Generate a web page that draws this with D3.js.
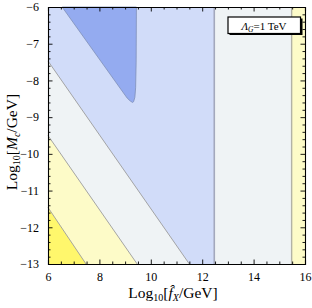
<!DOCTYPE html>
<html><head><meta charset="utf-8">
<script src="https://cdn.jsdelivr.net/npm/d3@7"></script>
<style>body{margin:0;background:#fff}svg{display:block}text{font-family:"Liberation Serif","DejaVu Serif",serif}</style>
</head><body><svg id="c" width="312" height="308"></svg>
<script>
// ---- data (log10 units) ----
const xDomain = [6, 16];
const yDomain = [-13, -6];
const xMajor = [6, 8, 10, 12, 14, 16];
const yMajor = [-6, -7, -8, -9, -10, -11, -12, -13];
// diagonal contour boundaries [x,y]
const contour1 = [[6, -11.46], [7.48, -13]];   // bright yellow edge
const contour2 = [[6, -9.5], [9.47, -13]];     // light yellow edge
const contour3 = [[6, -7.47], [11.5, -13]];    // pale edge
const vertical1 = 12.47;
const vertical2 = 15.48;
// dark blue region outline
const darkRegion = [[6.55, -6], [9.44, -6], [9.43, -7.5], [9.41, -8.2], [9.38, -8.46], [9.33, -8.58], [9.29, -8.6], [9.2, -8.56], [9.08, -8.48], [6.55, -6]];
const legendText = "1 TeV";

const col = { bright: "#fff76c", lightYellow: "#fdfbc8", pale: "#eff3f5", lightBlue: "#d1dcf9", dark: "#94abf0" };

const svg = d3.select("#c");
const L = 48, R = 305, T = 7, B = 264;
const x = d3.scaleLinear().domain(xDomain).range([L, R]);
const y = d3.scaleLinear().domain(yDomain).range([B, T]);
const line = d3.line().x(d => x(d[0])).y(d => y(d[1]));

const g = svg.append("g");
// base regions
g.append("rect").attr("x", x(6)).attr("y", y(-6)).attr("width", x(vertical1) - x(6)).attr("height", y(-13) - y(-6)).attr("fill", col.lightBlue);
g.append("rect").attr("x", x(vertical1)).attr("y", y(-6)).attr("width", x(vertical2) - x(vertical1)).attr("height", y(-13) - y(-6)).attr("fill", col.pale);
g.append("rect").attr("x", x(vertical2)).attr("y", y(-6)).attr("width", x(16) - x(vertical2)).attr("height", y(-13) - y(-6)).attr("fill", col.lightYellow);
// triangles
function tri(c) { return [c[0], c[1], [6, -13]]; }
g.append("path").attr("d", line(tri(contour3))).attr("fill", col.pale);
g.append("path").attr("d", line(tri(contour2))).attr("fill", col.lightYellow);
g.append("path").attr("d", line(tri(contour1))).attr("fill", col.bright);
g.append("path").attr("d", d3.line().x(d => x(d[0])).y(d => y(d[1])).curve(d3.curveLinear)(darkRegion)).attr("fill", col.dark).attr("stroke", "#7f8fb8").attr("stroke-width", 0.8);
// contour lines
[contour1, contour2, contour3].forEach(c => g.append("path").attr("d", line(c)).attr("stroke", "#9c9c9c").attr("stroke-width", 0.9).attr("fill", "none"));
g.append("line").attr("x1", x(vertical1)).attr("x2", x(vertical1)).attr("y1", y(-6)).attr("y2", y(-13)).attr("stroke", "#a3a8bc").attr("stroke-width", 1.6);
g.append("line").attr("x1", x(vertical2)).attr("x2", x(vertical2)).attr("y1", y(-6)).attr("y2", y(-13)).attr("stroke", "#b2b2a6").attr("stroke-width", 1.4);

// axes
const fmt = d => d < 0 ? "\u2212" + Math.abs(d) : String(d);
const xMinor = d3.range(6, 16.01, 0.5).filter(v => !xMajor.includes(v));
const yMinor = d3.range(-13, -5.99, 0.2).map(v => +v.toFixed(1)).filter(v => !yMajor.includes(v));
function axis(gen, tr, major, minor, labels) {
  const a = svg.append("g").attr("transform", tr);
  a.call(gen.tickValues(major).tickSize(-4.5).tickPadding(8).tickFormat(labels ? fmt : ""));
  const m = svg.append("g").attr("transform", tr);
  m.call(gen.tickValues(minor).tickSize(-2.5).tickFormat(""));
  m.select(".domain").remove();
  [a, m].forEach(s => { s.selectAll(".domain").attr("stroke", "#000").attr("stroke-width", 1.1); s.selectAll(".tick line").attr("stroke", "#000").attr("stroke-width", 0.9); });
  a.selectAll("text").attr("font-size", 12).attr("fill", "#000").attr("font-family", "Liberation Serif");
  return a;
}
axis(d3.axisBottom(x), `translate(0,${B})`, xMajor, xMinor, true);
axis(d3.axisTop(x), `translate(0,${T})`, xMajor, xMinor, false);
axis(d3.axisLeft(y), `translate(${L},0)`, yMajor, yMinor, true).selectAll("text").attr("dx", "-1");
axis(d3.axisRight(y), `translate(${R},0)`, yMajor, yMinor, false);

// axis labels
const xl = svg.append("text").attr("x", 173).attr("y", 298).attr("text-anchor", "middle").attr("font-size", 15.5);
xl.append("tspan").text("Log");
xl.append("tspan").attr("font-size", 10).attr("dy", 3).text("10");
xl.append("tspan").attr("dy", -3).text("[");
xl.append("tspan").attr("font-style", "italic").text("f\u0302");
xl.append("tspan").attr("font-style", "italic").attr("font-size", 10).attr("dy", 3).text("X");
xl.append("tspan").attr("dy", -3).text("/GeV]");

const yl = svg.append("text").attr("transform", "translate(17,142) rotate(-90)").attr("text-anchor", "middle").attr("font-size", 15.5);
yl.append("tspan").text("Log");
yl.append("tspan").attr("font-size", 10).attr("dy", 3).text("10");
yl.append("tspan").attr("dy", -3).text("[");
yl.append("tspan").attr("font-style", "italic").text("M");
yl.append("tspan").attr("font-style", "italic").attr("font-size", 10).attr("dy", 3).text("c");
yl.append("tspan").attr("dy", -3).text("/GeV]");

// legend
svg.append("rect").attr("x", 229.5).attr("y", 18.5).attr("width", 73).attr("height", 16.5).attr("fill", "#000");
svg.append("rect").attr("x", 228).attr("y", 17).attr("width", 72.5).attr("height", 16.5).attr("fill", "#fff").attr("stroke", "#000").attr("stroke-width", 1.2);
const lt = svg.append("text").attr("x", 264).attr("y", 29.5).attr("text-anchor", "middle").attr("font-size", 11);
lt.append("tspan").attr("font-style", "italic").text("\u039B");
lt.append("tspan").attr("font-style", "italic").attr("font-size", 7.5).attr("dy", 2).text("G");
lt.append("tspan").attr("dy", -2).text("=" + legendText);
</script></body></html>
